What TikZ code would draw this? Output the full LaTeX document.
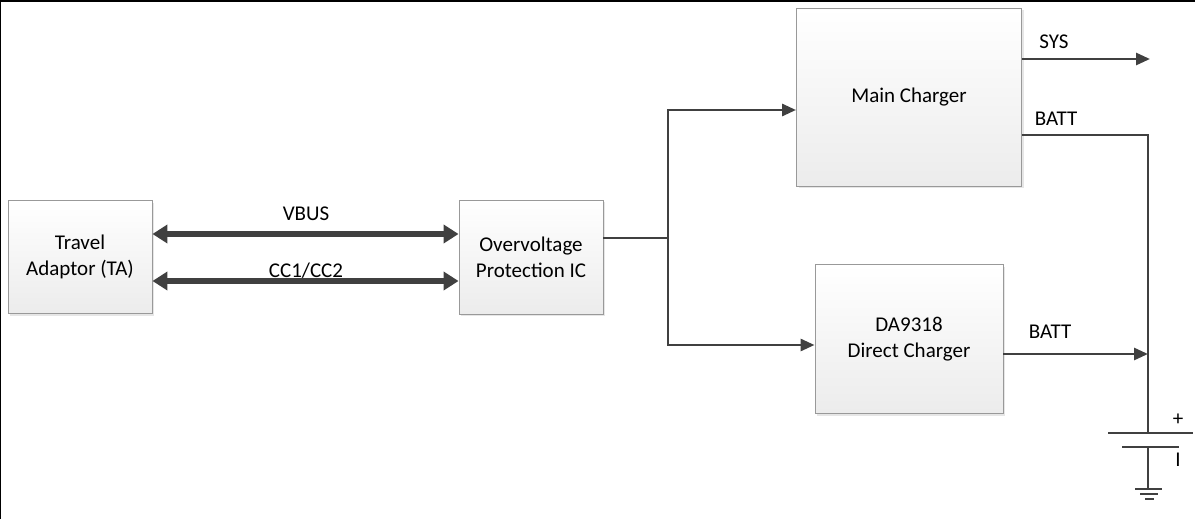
\documentclass[tikz,border=0pt]{standalone}
\usepackage{fontspec}
\setmainfont{Carlito}
\usetikzlibrary{arrows.meta,positioning,calc,shadows}

\begin{document}
\begin{tikzpicture}[
        x=1pt, y=-1pt,
        every node/.style={font=\fontsize{21}{26}\selectfont, align=center},
        block/.style={draw=gray!80, line width=0.9pt, top color=white, bottom color=gray!15,
            drop shadow={opacity=0.2, shadow xshift=2pt, shadow yshift=-2pt}, inner sep=0pt},
        wire/.style={draw=black!75, line width=2.8pt},
        bus/.style={draw=black!75, line width=5.5pt, {Triangle[length=15pt,width=18pt]}-{Triangle[length=15pt,width=18pt]}},
        feed/.style={wire, -{Triangle[length=14pt,width=12pt]}},
        lbl/.style={inner sep=0pt}
    ]

    \useasboundingbox (0,0) rectangle (1195,519);
    \draw[line width=2.5pt] (0,519) -- (0,1) -- (1195,1);

    % Nodes
    \node (ta) [block, minimum width=144, minimum height=113] at (80,257) {Travel\\Adaptor (TA)};
    \node (ovp) [block, minimum width=144, minimum height=114] at (531,257) {Overvoltage\\Protection IC};
    \node (main) [block, minimum width=225, minimum height=178] at (909,97) {Main Charger};
    \node (direct) [block, minimum width=188, minimum height=149] at (909,339) {DA9318\\Direct Charger};

    \coordinate (split) at (668,238);
    \coordinate (sysout) at (1150,59);
    \coordinate (battrail) at (1148,135);
    \coordinate (plus) at (1148,433);
    \coordinate (minus) at (1148,447);
    \coordinate (gnd) at (1148,489);

    % Labels
    \node (vbus) [lbl] at (306,214) {VBUS};
    \node (cc) [lbl] at (306,271) {CC1/CC2};
    \node (sys) [lbl] at (1054,42) {SYS};
    \node (batt1) [lbl] at (1056,119) {BATT};
    \node (batt2) [lbl] at (1050,332) {BATT};
    \node (pos) [lbl] at (1178,420) {+};
    \node (neg) [lbl] at (1178,460) {I};

    % Edges
    \draw[bus] ($(ta.east)+(0,-23)$) -- ($(ovp.west)+(0,-23)$);
    \draw[bus] ($(ta.east)+(0,24)$) -- ($(ovp.west)+(0,24)$);
    \draw[wire] ($(ovp.east)+(0,-19)$) -- (split);
    \draw[feed] (split) |- ($(main.west)+(0,13)$);
    \draw[feed] (split) |- ($(direct.west)+(0,6)$);
    \draw[feed] ($(main.east)+(0,-38)$) -- (sysout);
    \draw[wire] ($(main.east)+(0,38)$) -- (battrail) -- (plus);
    \draw[feed] ($(direct.east)+(0,15)$) -- (battrail |- 0,354);

    % Battery and ground
    \draw[wire] ($(plus)+(-40,0)$) -- ($(plus)+(45,0)$);
    \draw[wire] ($(minus)+(-26,0)$) -- ($(minus)+(31,0)$);
    \draw[wire] (minus) -- (gnd);
    \draw[wire, line width=2.2pt] ($(gnd)+(-13,0)$) -- ($(gnd)+(14,0)$);
    \draw[wire, line width=2.2pt] ($(gnd)+(-8,5)$) -- ($(gnd)+(10,5)$);
    \draw[wire, line width=2.2pt] ($(gnd)+(-3,10)$) -- ($(gnd)+(6,10)$);

\end{tikzpicture}
\end{document}
